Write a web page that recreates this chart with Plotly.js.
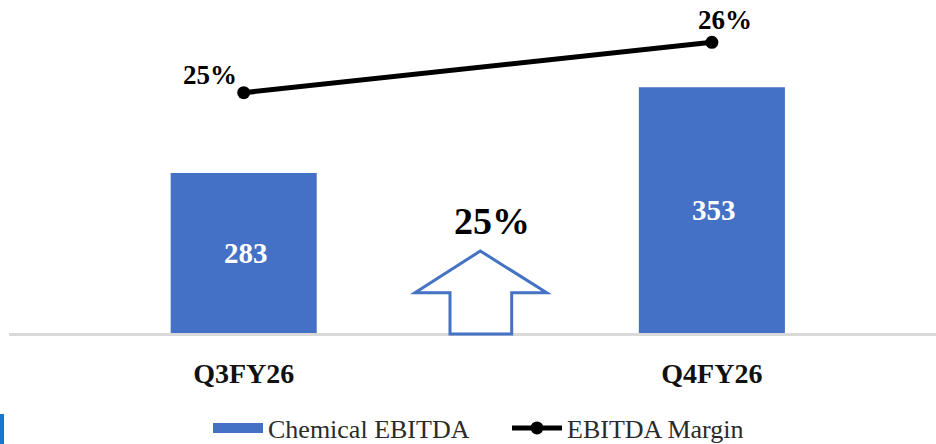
<!DOCTYPE html>
<html>
<head>
<meta charset="utf-8">
<script src="https://cdn.plot.ly/plotly-3.0.1.min.js"></script>
<style>
  html, body { margin: 0; padding: 0; background: #ffffff; }
  #chart { width: 936px; height: 444px; }
</style>
</head>
<body>
<div id="chart"></div>
<script>
// Quarterly chemical EBITDA (bars) and EBITDA margin (line)
const quarters = ['Q3FY26', 'Q4FY26'];
const chemicalEbitda = [283, 353];
const ebitdaMargin = [25, 26];
const growthLabel = '25%';

const serif = 'Liberation Serif, Times New Roman, serif';
const barBlue = '#4471c6';

// Plot-area geometry in page pixels, used for the decorative arrow
const W = 936, H = 444, M = { l: 9, r: 0, t: 0, b: 111, autoexpand: false };
const pw = W - M.l - M.r, ph = H - M.t - M.b;
const px = x => (x - M.l) / pw;
const py = y => (ph + M.t - y) / ph;

const yRange = [152.3, 424.3];

// Per-label pixel offsets for the margin labels
const marginLabelShift = [{ x: -34, y: 18 }, { x: 13, y: 22 }];

const bars = {
  type: 'bar',
  name: 'Chemical EBITDA',
  x: quarters,
  y: chemicalEbitda,
  width: 0.312,
  marker: { color: barBlue },
  showlegend: false,
  legendgroup: 'ebitda',
  hoverinfo: 'skip'
};

// Legend entry for the bars, drawn as a wide swatch
const barsKey = {
  type: 'scatter',
  mode: 'lines',
  name: 'Chemical EBITDA',
  x: [null], y: [null],
  line: { color: barBlue, width: 14 },
  legendgroup: 'ebitda',
  hoverinfo: 'skip'
};

const line = {
  type: 'scatter',
  mode: 'lines+markers',
  name: 'EBITDA Margin',
  x: quarters,
  y: ebitdaMargin,
  yaxis: 'y2',
  line: { color: '#000000', width: 5 },
  marker: { color: '#000000', size: 13 },
  hoverinfo: 'skip'
};

// Bar value labels, centred in the visible part of each bar
const annotations = chemicalEbitda.map((v, i) => ({
  x: quarters[i], y: (yRange[0] + v) / 2, xref: 'x', yref: 'y',
  text: String(v), showarrow: false, xshift: 2,
  font: { family: serif, size: 29, color: '#ffffff', weight: 'bold' }
}));

ebitdaMargin.forEach((v, i) => annotations.push({
  x: quarters[i], y: v, xref: 'x', yref: 'y2',
  text: v + '%', showarrow: false,
  xshift: marginLabelShift[i].x, yshift: marginLabelShift[i].y,
  font: { family: serif, size: 27, color: '#000000', weight: 'bold' }
}));

annotations.push({
  x: px(492), y: py(221), xref: 'paper', yref: 'paper',
  text: growthLabel, showarrow: false,
  font: { family: serif, size: 38, color: '#000000', weight: 'bold' }
});

const arrowPts = [
  [480.3, 251], [546.7, 292.7], [511.7, 292.7], [511.7, 334],
  [450, 334], [450, 292.7], [415, 292.7]
];
const arrowPath = 'M' + arrowPts.map(p => px(p[0]) + ',' + py(p[1])).join(' L') + ' Z';

const layout = {
  width: W, height: H,
  margin: M,
  paper_bgcolor: '#ffffff',
  plot_bgcolor: '#ffffff',
  showlegend: true,
  legend: {
    orientation: 'h',
    x: px(208), xanchor: 'left',
    y: py(428), yanchor: 'middle',
    font: { family: serif, size: 26, color: '#2a2a2a' },
    itemwidth: 50,
    entrywidth: 234, entrywidthmode: 'pixels',
    traceorder: 'normal'
  },
  xaxis: {
    type: 'category',
    range: [-0.5013, 1.4787],
    showline: true, linecolor: '#d9d9d9', linewidth: 3,
    showgrid: false, zeroline: false,
    ticks: '', ticklabelstandoff: 13,
    tickfont: { family: serif, size: 28, color: '#111111', weight: 'bold' },
    fixedrange: true
  },
  yaxis: {
    range: yRange,
    visible: false, showgrid: false, zeroline: false, fixedrange: true
  },
  yaxis2: {
    range: [20.232, 26.839],
    overlaying: 'y', side: 'right',
    visible: false, showgrid: false, zeroline: false, fixedrange: true
  },
  annotations: annotations,
  shapes: [
    {
      type: 'path', xref: 'paper', yref: 'paper',
      path: arrowPath,
      line: { color: '#4472c4', width: 3 },
      fillcolor: '#ffffff', layer: 'above'
    },
    {
      type: 'rect', xref: 'paper', yref: 'paper',
      x0: px(0), x1: px(4), y0: py(414), y1: py(444),
      line: { width: 0 }, fillcolor: '#1479cf'
    }
  ]
};

Plotly.newPlot('chart', [bars, barsKey, line], layout, { displayModeBar: false, staticPlot: true });
</script>
</body>
</html>
